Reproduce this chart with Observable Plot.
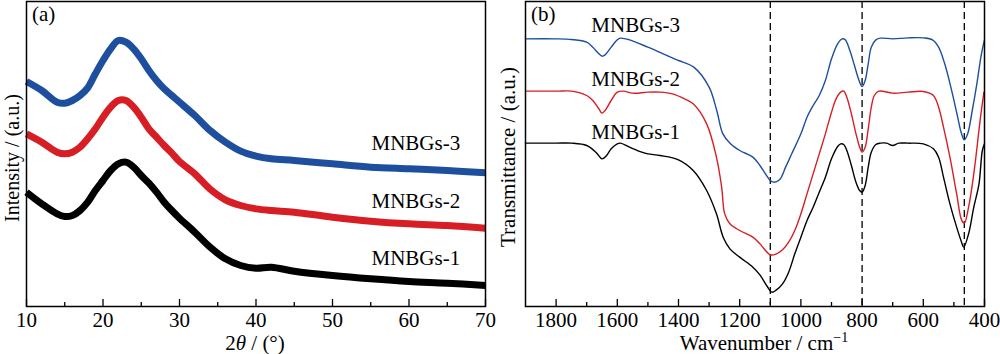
<!DOCTYPE html>
<html><head><meta charset="utf-8">
<script src="https://cdn.jsdelivr.net/npm/d3@7"></script>
<script src="https://cdn.jsdelivr.net/npm/@observablehq/plot@0.6"></script>
<style>
body{margin:0;background:#fff;}
#wrap{position:relative;width:1000px;height:354px;overflow:hidden;font-family:"Liberation Serif","Times New Roman",serif;}
.panel{position:absolute;top:0;}
</style></head><body>
<div id="wrap"><div id="pa" class="panel" style="left:0"></div><div id="pb" class="panel" style="left:490px"></div></div>
<script>
// ---------- Panel (a): XRD ----------
const seriesNames = ["MNBGs-1", "MNBGs-2", "MNBGs-3"];
const seriesColors = ["#000000", "#d81e25", "#1d4f9e"];
const xrdTheta = [10,12,14,15,16,17,18,19,20,21,22,23,24,25,26,27,28,29,30,32,34,36,38,40,42,45,50,55,60,65,70];
const xrdMNBGs1 = [343,308,278,270,273,288,313,348,378,408,428,433,418,393,370,343,313,288,265,223,178,143,123,115,118,106,93,83,75,70,63];
const xrdMNBGs2 = [518,493,463,458,463,478,503,533,568,598,618,618,598,568,533,508,483,460,435,398,352,320,303,293,288,283,268,256,248,243,235];
const xrdMNBGs3 = [675,648,613,610,618,633,656,698,738,773,798,793,773,743,708,678,653,633,613,573,528,493,466,451,443,438,428,418,413,408,401];
const xrdMajorTicks = [10,20,30,40,50,60,70];
const xrdMinorTicks = [15,25,35,45,55,65];

// ---------- Panel (b): FTIR ----------
const ftirWn1 = [1900,1800,1750,1700,1670,1650,1635,1620,1600,1590,1560,1520,1500,1460,1400,1352,1308,1276,1254,1232,1200,1157,1134,1110,1095,1080,1060,1040,1020,1000,980,960,940,920,900,880,870,860,850,835,820,808,800,790,780,770,755,740,720,700,680,650,600,567,550,534,513,491,475,468,452,435,418,407,400];
const ftirT1 = [490,490,490,483,463,443,453,473,488,490,478,463,458,453,440,408,348,278,208,173,148,118,95,60,43,50,68,103,158,208,258,298,343,388,443,480,488,486,468,423,373,348,343,363,418,463,486,490,490,483,490,490,488,473,448,388,308,238,193,178,218,298,368,468,488];
const ftirWn2 = [1900,1800,1750,1700,1680,1660,1650,1640,1620,1600,1580,1550,1500,1460,1420,1380,1352,1308,1276,1259,1249,1232,1200,1157,1134,1100,1080,1060,1040,1020,1000,980,960,940,920,900,885,870,860,850,835,820,808,800,790,780,770,760,745,700,650,600,567,550,534,513,491,475,466,452,435,413,402];
const ftirT2 = [646,646,646,633,618,593,580,588,618,643,646,640,643,643,638,623,608,548,448,358,278,248,228,208,188,155,158,170,193,228,278,338,398,458,518,583,623,643,646,628,578,518,478,463,478,533,598,633,646,640,643,645,633,598,538,448,338,260,250,298,398,568,643];
const ftirWn3 = [1900,1800,1750,1700,1680,1660,1650,1640,1620,1600,1590,1560,1500,1450,1400,1350,1300,1275,1255,1230,1200,1157,1134,1100,1090,1070,1050,1030,1000,980,960,940,920,900,880,865,855,840,825,810,800,790,780,770,755,740,700,650,600,570,550,530,510,490,475,466,455,440,425,410,400];
const ftirT3 = [803,803,801,793,778,758,751,755,778,800,805,800,778,758,738,718,658,588,518,488,468,448,423,378,373,380,418,458,518,568,603,633,678,743,788,803,800,768,723,678,660,678,728,778,800,805,803,806,806,800,778,728,658,578,518,500,518,588,668,758,800];
const ftirBands = [1100, 800, 466];
const ftirMajorTicks = [1800,1600,1400,1200,1000,800,600,400];
const ftirMinorTicks = [1700,1500,1300,1100,900,700,500];

// annotations
const xrdLabelPos = [{name:"MNBGs-3", x:55.1, y:489},{name:"MNBGs-2", x:55.1, y:315},{name:"MNBGs-1", x:55.1, y:144}];
const ftirLabelPos = [{name:"MNBGs-3", x:1685, y:844},{name:"MNBGs-2", x:1685, y:681},{name:"MNBGs-1", x:1685, y:523}];

const xrdRows = [];
[xrdMNBGs1, xrdMNBGs2, xrdMNBGs3].forEach((arr, i) => arr.forEach((v, j) => xrdRows.push({series: seriesNames[i], theta: xrdTheta[j], I: v})));
const ftirRows = [];
[[ftirWn1, ftirT1], [ftirWn2, ftirT2], [ftirWn3, ftirT3]].forEach(([w, t], i) => w.forEach((v, j) => ftirRows.push({series: seriesNames[i], wn: v, T: t[j]})));

const FONT = '"Liberation Serif","Times New Roman",serif';
const H = 354, MT = 1, MB = 48, innerH = H - MT - MB;
const commonStyle = {fontFamily: FONT, fontSize: "21px", background: "transparent", overflow: "visible", color: "black"};

const plotA = Plot.plot({
  width: 490, height: H, marginLeft: 26, marginRight: 5, marginTop: MT, marginBottom: MB,
  style: commonStyle,
  x: {domain: [10, 70], ticks: xrdMajorTicks, tickSize: 0, tickPadding: 6, tickFormat: d => String(d), label: null},
  y: {domain: [0, 915], axis: null},
  color: {domain: seriesNames, range: seriesColors},
  marks: [
    Plot.line(xrdRows, {x: "theta", y: "I", z: "series", stroke: "series", strokeWidth: 7, strokeLinecap: "butt", curve: "catmull-rom"}),
    Plot.ruleX(xrdMajorTicks, {stroke: "black", strokeWidth: 1.3, insetTop: innerH - 7}),
    Plot.ruleX(xrdMinorTicks, {stroke: "black", strokeWidth: 1.3, insetTop: innerH - 4}),
    Plot.frame({stroke: "black", strokeWidth: 1.5}),
    Plot.text(xrdLabelPos, {x: "x", y: "y", text: "name", textAnchor: "start", fill: "black", fontSize: 21})
  ]
});
document.getElementById("pa").appendChild(plotA);

const plotB = Plot.plot({
  width: 510, height: H, marginLeft: 35, marginRight: 16, marginTop: MT, marginBottom: MB,
  style: commonStyle,
  x: {domain: [1900, 400], ticks: ftirMajorTicks, tickSize: 0, tickPadding: 6, tickFormat: d => String(d), label: null},
  y: {domain: [0, 915], axis: null},
  color: {domain: seriesNames, range: seriesColors},
  marks: [
    Plot.ruleX(ftirBands, {stroke: "black", strokeWidth: 1.3, strokeDasharray: "7,4"}),
    Plot.line(ftirRows, {x: "wn", y: "T", z: "series", stroke: "series", strokeWidth: 1.4, curve: "catmull-rom"}),
    Plot.ruleX(ftirMajorTicks, {stroke: "black", strokeWidth: 1.3, insetTop: innerH - 7}),
    Plot.ruleX(ftirMinorTicks, {stroke: "black", strokeWidth: 1.3, insetTop: innerH - 4}),
    Plot.frame({stroke: "black", strokeWidth: 1.5}),
    Plot.text(ftirLabelPos, {x: "x", y: "y", text: "name", textAnchor: "start", fill: "black", fontSize: 21})
  ]
});
document.getElementById("pb").appendChild(plotB);

function addText(svgEl, x, y, opts) {
  const t = d3.select(svgEl).append("text")
    .attr("x", x).attr("y", y)
    .attr("font-family", FONT).attr("font-size", opts.size || 21).attr("fill", "black")
    .attr("text-anchor", opts.anchor || "start");
  if (opts.rotate) t.attr("transform", `rotate(-90, ${x}, ${y})`).attr("dominant-baseline", "central");
  return t;
}
// panel letters
addText(plotA, 32, 21, {}).text("(a)");
addText(plotB, 41, 21, {}).text("(b)");
// x titles
const ta = addText(plotA, 255, 350, {anchor: "middle"});
ta.append("tspan").text("2");
ta.append("tspan").attr("font-style", "italic").text("θ");
ta.append("tspan").text(" / (°)");
const tb = addText(plotB, 274, 350, {anchor: "middle"});
tb.append("tspan").text("Wavenumber / cm");
tb.append("tspan").attr("font-size", 14).attr("dy", -8).text("−1");
// y titles
addText(plotA, 11.5, 158, {anchor: "middle", rotate: true, size: 20}).text("Intensity / (a.u.)");
addText(plotB, 18, 157, {anchor: "middle", rotate: true}).text("Transmittance / (a.u.)");
</script></body></html>
